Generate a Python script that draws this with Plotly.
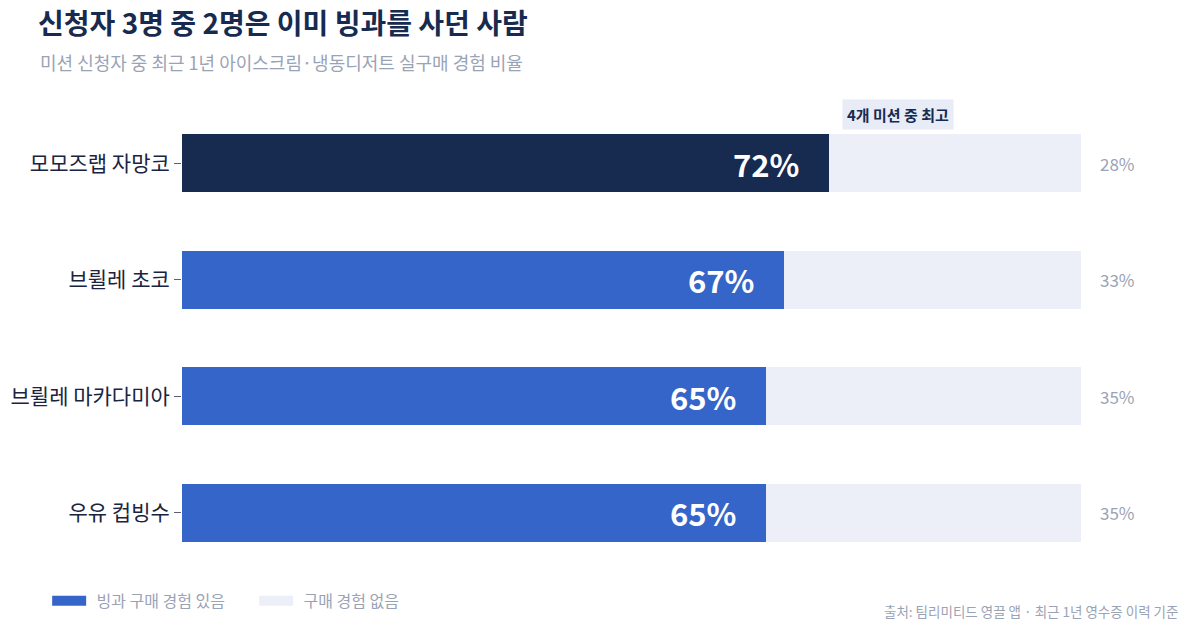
import plotly.graph_objects as go

missions = ['모모즈랩 자망코', '브륄레 초코', '브륄레 마카다미아', '우유 컵빙수']
bought = [72, 67, 65, 65]
not_bought = [28, 33, 35, 35]

navy = '#172A4F'
blue = '#3565C9'
light = '#ECEFF7'
grey = '#9AA3B5'
font = 'Noto Sans CJK KR'

top = bought.index(max(bought))
bar_colors = [navy if i == top else blue for i in range(len(bought))]

fig = go.Figure()
fig.add_trace(go.Bar(
    y=missions, x=bought, orientation='h', name='빙과 구매 경험 있음',
    marker=dict(color=bar_colors, line=dict(width=0)),
    hoverinfo='skip', showlegend=False,
))
fig.add_trace(go.Bar(
    y=missions, x=not_bought, orientation='h', name='구매 경험 없음',
    marker=dict(color=light, line=dict(width=0)),
    hoverinfo='skip', showlegend=False,
))
# legend entries as thick lines so the swatches come out as wide rectangles
for name, color in [('빙과 구매 경험 있음', blue), ('구매 경험 없음', light)]:
    fig.add_trace(go.Scatter(x=[None], y=[None], mode='lines', name='\u2004' + name,
                             line=dict(color=color, width=14)))

annotations = []
for m, b, n in zip(missions, bought, not_bought):
    annotations.append(dict(
        x=b, y=m, xref='x', yref='y', text=f'{b}%', showarrow=False,
        xanchor='right', xshift=-28,
        font=dict(family=font, size=31, color='white', weight='bold'),
    ))
    annotations.append(dict(
        x=b + n, y=m, xref='x', yref='y', text=f'{n}%', showarrow=False,
        xanchor='left', xshift=17,
        font=dict(family=font, size=17, color=grey),
    ))

annotations.append(dict(
    x=bought[top], y=missions[top], xref='x', yref='y', text='<b>4개 미션 중 최고</b>',
    showarrow=False, xanchor='left', xshift=13, yshift=49,
    bgcolor='#E8ECF6', borderpad=4,
    font=dict(family=font, size=15, color=navy),
))
annotations.append(dict(
    x=-0.160, y=1.092, xref='paper', yref='paper', xanchor='left', yanchor='middle',
    text='미션 신청자 중 최근 1년 아이스크림·냉동디저트 실구매 경험 비율', showarrow=False,
    font=dict(family=font, size=18, color=grey),
))
annotations.append(dict(
    x=1.110, y=-0.086, xref='paper', yref='paper', xanchor='right', yanchor='middle',
    text='출처: 팀리미티드 영끌 앱 · 최근 1년 영수증 이력 기준', showarrow=False,
    font=dict(family=font, size=13.5, color=grey),
))

fig.update_layout(
    title=dict(text='<b>신청자 3명 중 2명은 이미 빙과를 사던 사람</b>',
               x=0.025, xanchor='left', xref='container',
               y=0.975, yanchor='middle', yref='container',
               font=dict(family=font, size=28, color=navy)),
    barmode='stack', bargap=0.5,
    width=1200, height=631,
    margin=dict(l=174, r=127, t=97, b=68),
    plot_bgcolor='white', paper_bgcolor='white',
    font=dict(family=font),
    showlegend=True,
    legend=dict(orientation='h', x=-0.150, y=-0.064, xanchor='left', yanchor='middle',
                font=dict(family=font, size=16, color=grey), traceorder='normal',
                itemwidth=34, entrywidth=158),
    annotations=annotations,
)
fig.update_xaxes(range=[0, 100], visible=False)
fig.update_yaxes(autorange='reversed', automargin=False, showgrid=False, zeroline=False,
                 showline=False, ticks='outside', ticklen=7, tickcolor='#5a6272',
                 tickfont=dict(family=font, size=21, color='#1a2440'))

fig.write_html('out.html')
